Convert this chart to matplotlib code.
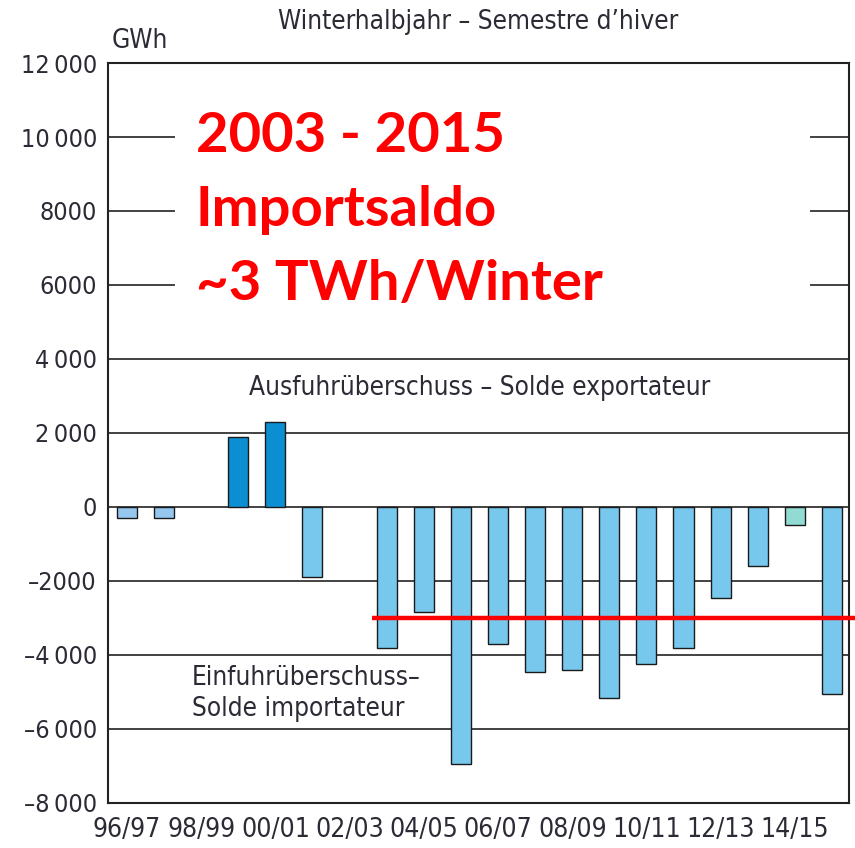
import matplotlib
matplotlib.use("Agg")
import matplotlib.pyplot as plt
from matplotlib.patches import Rectangle

# winter half-year net balance, GWh (96/97 .. 15/16); None = no bar
seasons = ["96/97", "97/98", "98/99", "99/00", "00/01", "01/02", "02/03",
           "03/04", "04/05", "05/06", "06/07", "07/08", "08/09", "09/10",
           "10/11", "11/12", "12/13", "13/14", "14/15", "15/16"]
balance = [-300, -300, None, 1900, 2300, -1900, None,
           -3800, -2850, -6950, -3700, -4450, -4400, -5150,
           -4250, -3800, -2450, -1600, -500, -5050]
bar_colors = ["#95c6ee", "#95c6ee", "#78c8ee", "#0b8fd2", "#0b8fd2", "#78c8ee", "#78c8ee",
              "#78c8ee", "#78c8ee", "#78c8ee", "#78c8ee", "#78c8ee", "#78c8ee", "#78c8ee",
              "#78c8ee", "#78c8ee", "#78c8ee", "#78c8ee", "#92dbd3", "#78c8ee"]

yticks = [12000, 10000, 8000, 6000, 4000, 2000, 0, -2000, -4000, -6000, -8000]
ytick_labels = ["12\u2009000", "10\u2009000", "8000", "6000", "4\u2009000", "2\u2009000", "0",
                "\u20132000", "\u20134\u2009000", "\u20136\u2009000", "\u20138\u2009000"]
xtick_labels = seasons[::2]

avg_import = -3000  # ~3 TWh per winter, 2003-2015
note_lines = ["2003 - 2015", "Importsaldo", "~3 TWh/Winter"]

fnt = dict(fontfamily="DejaVu Sans", fontstretch="condensed", fontsize=18.8, color="#2b2b35")

fig = plt.figure(figsize=(8.55, 8.48), dpi=100)
ax = fig.add_axes([0.1263, 0.0531, 0.8667, 0.8726])

idx = [i for i, v in enumerate(balance) if v is not None]
ax.bar(idx, [balance[i] for i in idx], width=0.54, color=[bar_colors[i] for i in idx],
       edgecolor="#1a1a1a", linewidth=1.0, zorder=3)

ax.set_xlim(-0.51, 19.46)
ax.set_ylim(-8000, 12000)
for v in yticks:
    ax.axhline(v, color="#222222", linewidth=1.2, zorder=1)

ax.set_yticks(yticks)
ax.set_yticklabels(ytick_labels, **{**fnt, "fontsize": 18})
ax.set_xticks(range(0, len(seasons), 2))
ax.set_xticklabels(xtick_labels, **{**fnt, "fontsize": 19})
ax.tick_params(length=0, pad=8)
ax.tick_params(axis="x", pad=10)
for s in ax.spines.values():
    s.set_linewidth(1.5)
    s.set_color("#222222")
    s.set_zorder(4)

# white panel behind the red note
ax.add_patch(Rectangle((0.09, 0.665), 0.857, 0.29, transform=ax.transAxes,
                       facecolor="white", edgecolor="none", zorder=2))
for line, gy in zip(note_lines, [10000, 8000, 6000]):
    ax.text(1.85, gy - 400, line, color="#ff0000", fontsize=40.5, fontweight="bold",
            fontfamily=["Lato", "DejaVu Sans"], va="baseline", ha="left", zorder=5)

ax.plot([6.6, 20], [avg_import, avg_import], color="#ff0000", linewidth=3.2,
        clip_on=False, zorder=6, solid_capstyle="butt")

ax.text(0.5, 1.055, "Winterhalbjahr \u2013 Semestre d\u2019hiver", transform=ax.transAxes,
        ha="center", va="center", **fnt)
ax.text(0.005, 1.03, "GWh", transform=ax.transAxes, ha="left", va="center", **fnt)
ax.text(3.3, 3220, "Ausfuhr\u00fcberschuss \u2013 Solde exportateur", ha="left", va="center",
        zorder=5, **fnt)
ax.text(1.75, -5050, "Einfuhr\u00fcberschuss\u2013\nSolde importateur", ha="left", va="center",
        linespacing=1.25, zorder=5, **fnt)

fig.savefig("out.png", dpi=100)
